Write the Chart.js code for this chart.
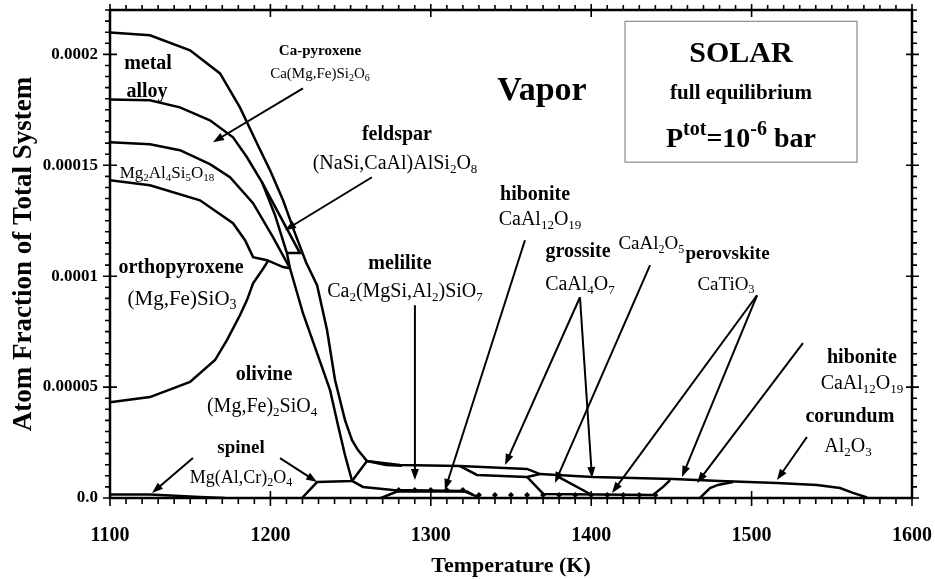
<!DOCTYPE html>
<html>
<head>
<meta charset="utf-8">
<script src="https://cdn.jsdelivr.net/npm/chart.js@4.4.1/dist/chart.umd.min.js"></script>
<style>
    html, body { margin: 0; padding: 0; background: #fff; }
    #wrap { width: 935px; height: 580px; }
</style>
</head>
<body>
<div id="wrap"><canvas id="phaseChart"></canvas></div>
<script>
// Phase boundaries: [temperature (K), atom fraction x 1e-5]
const alloyTop = [
    [1100, 20.99], [1124.9, 20.86], [1149.9, 20.18], [1168.6, 19.14], [1181.0, 17.61],
    [1191.6, 15.99], [1199.8, 14.77], [1207.9, 13.42], [1215.3, 11.94], [1222.2, 10.63],
    [1229.1, 9.59], [1235.3, 7.57], [1240.3, 5.32], [1246.5, 3.51], [1250.9, 2.61],
    [1254.6, 2.16], [1260.2, 1.67], [1270.2, 1.58], [1280.8, 1.49], [1318.2, 1.44],
    [1360.0, 1.31], [1368.1, 1.08], [1378.7, 1.04], [1401.1, 0.95], [1426.1, 0.90],
    [1451.0, 0.86], [1480.3, 0.77], [1515.8, 0.68], [1540.8, 0.59], [1555.1, 0.45],
    [1563.2, 0.23], [1572.0, 0.02]
];
const alloyBase = [
    [1100, 17.97], [1124.9, 17.93], [1143.6, 17.61], [1162.3, 17.03], [1176.7, 16.26],
    [1185.4, 15.36], [1194.8, 14.23], [1202.9, 12.75], [1210.3, 11.04], [1212.2, 10.36]
];
const cpxBase = [
    [1100, 16.04], [1124.9, 15.95], [1143.6, 15.68], [1162.3, 15.05], [1174.8, 14.46],
    [1189.2, 13.29], [1201.6, 11.76], [1212.2, 10.36], [1220.3, 8.33], [1229.1, 6.53],
    [1237.2, 4.86], [1242.1, 3.29], [1246.5, 1.94], [1250.9, 0.77]
];
const opxTop = [
    [1100, 14.32], [1124.9, 14.10], [1156.1, 13.42], [1176.7, 12.39], [1184.2, 11.62],
    [1189.2, 10.86], [1197.9, 10.72], [1207.9, 10.41], [1212.2, 10.36]
];
const olivineTop = [
    [1100, 4.32], [1124.9, 4.55], [1149.9, 5.23], [1165.5, 6.22], [1172.9, 7.12],
    [1181.0, 8.24], [1185.4, 8.92], [1189.2, 9.68], [1194.8, 10.27], [1198.5, 10.68]
];
const feldsparEdge = [[1194.8, 14.23], [1218.4, 11.04], [1210.3, 11.04]];
const spinelLow = [[1100, 0.16], [1124.9, 0.16], [1137.4, 0.11], [1156.1, 0.05], [1171.7, 0]];
const spinelHigh = [[1219.7, 0], [1229.1, 0.72], [1250.9, 0.77], [1260.2, 1.67]];
const meliliteWedge = [[1260.2, 1.67], [1272.0, 1.49], [1282.0, 1.45]];
const meliliteBase = [[1250.9, 0.77], [1257.7, 0.50], [1276.4, 0.36], [1320.1, 0.32], [1326.3, 0.14], [1330.7, 0]];
const hiboniteLens = [[1318.2, 1.44], [1328.8, 1.04], [1360.0, 0.95], [1368.1, 1.08]];
const traceLens = [[1269.0, 0], [1278.9, 0.29], [1322.6, 0.29], [1326.3, 0.14]];
const grossiteEdge = [[1360.0, 0.95], [1370.2, 0.18], [1438.5, 0.14], [1444.8, 0.50], [1449.2, 0.81]];
const grossiteSplit = [[1378.7, 0.99], [1399.3, 0.18]];
const corundumEdge = [[1467.8, 0], [1474.1, 0.45], [1479.0, 0.59], [1488.4, 0.72]];

// small diamond markers near the floor
const traceT = [1280, 1290, 1300, 1310, 1320, 1330, 1340, 1350, 1360, 1370, 1380, 1390, 1400, 1410, 1420, 1430, 1440];
const traceY = [0.36, 0.36, 0.36, 0.36, 0.36, 0.14, 0.14, 0.14, 0.14, 0.14, 0.14, 0.14, 0.14, 0.14, 0.14, 0.14, 0.14];

// axis ticks
const xTickLabels = [1100, 1200, 1300, 1400, 1500, 1600];
const yTickLabels = ['0.0', '0.00005', '0.0001', '0.00015', '0.0002'];
const xMajor = 100, xMinor = 10;
const yMajor = 5, yMinor = 0.5; // x 1e-5

// arrows: [T from, y from, T to, y to]
const arrows = [
    [1220.3, 18.47, 1164.2, 16.04],   // Ca-pyroxene
    [1263.3, 14.46, 1209.1, 12.07],   // feldspar
    [1151.7, 1.80, 1126.2, 0.23],     // spinel
    [1206.0, 1.80, 1229.1, 0.72],     // spinel
    [1290.1, 8.69, 1290.1, 0.81],     // melilite
    [1358.7, 11.62, 1308.8, 0.36],    // hibonite
    [1393.0, 9.05, 1346.3, 1.49],     // grossite
    [1393.0, 9.05, 1400.5, 0.90],     // grossite
    [1436.7, 10.50, 1377.4, 0.68],    // CaAl2O5
    [1503.4, 9.14, 1413.0, 0.23],     // perovskite
    [1503.4, 9.14, 1456.6, 0.95],     // perovskite
    [1532.0, 6.98, 1466.0, 0.68],     // hibonite
    [1534.5, 2.75, 1515.8, 0.81]      // corundum
];

// text labels: [text, T, y, font size, bold]
const labels = [
    ['metal', 1123.7, 19.64, 20, true],
    ['alloy', 1123.1, 18.38, 20, true],
    ['Ca-pyroxene', 1230.9, 20.18, 15, true],
    ['Ca(Mg,Fe)Si_{2}O_{6}', 1230.9, 19.14, 15, false],
    ['Vapor', 1369.3, 18.47, 34, true],
    ['feldspar', 1278.9, 16.44, 20, true],
    ['(NaSi,CaAl)AlSi_{2}O_{8}', 1277.7, 15.14, 20, false],
    ['Mg_{2}Al_{4}Si_{5}O_{18}', 1135.5, 14.68, 17, false],
    ['orthopyroxene', 1144.3, 10.45, 20, true],
    ['(Mg,Fe)SiO_{3}', 1144.9, 9.01, 21, false],
    ['olivine', 1196.0, 5.63, 20, true],
    ['(Mg,Fe)_{2}SiO_{4}', 1194.8, 4.19, 20, false],
    ['spinel', 1181.7, 2.30, 19, true],
    ['Mg(Al,Cr)_{2}O_{4}', 1181.7, 0.95, 18, false],
    ['melilite', 1280.8, 10.63, 20, true],
    ['Ca_{2}(MgSi,Al_{2})SiO_{7}', 1283.9, 9.37, 20, false],
    ['hibonite', 1365.0, 13.74, 20, true],
    ['CaAl_{12}O_{19}', 1368.1, 12.61, 20, false],
    ['grossite', 1391.8, 11.17, 20, true],
    ['CaAl_{4}O_{7}', 1393.0, 9.68, 20, false],
    ['CaAl_{2}O_{5}', 1437.5, 11.49, 19, false],
    ['perovskite', 1485.0, 11.04, 19, true],
    ['CaTiO_{3}', 1484.0, 9.68, 19, false],
    ['hibonite', 1568.8, 6.40, 20, true],
    ['CaAl_{12}O_{19}', 1568.8, 5.23, 20, false],
    ['corundum', 1561.3, 3.74, 20, true],
    ['Al_{2}O_{3}', 1560.1, 2.39, 20, false]
];

const boxCorners = [1421.1, 21.49, 1565.7, 15.14];
const boxLines = [
    ['SOLAR', 1493.4, 20.09, 30, true],
    ['full equilibrium', 1493.4, 18.29, 21, true],
    ['P^{tot}=10^{-6} bar', 1493.4, 16.26, 28, true]
];

const FONT = "'Liberation Serif', 'Times New Roman', serif";

function toPoints(pairs) {
    return pairs.map(p => ({ x: p[0], y: p[1] * 1e-5 }));
}

function boundary(pairs) {
    return {
        data: toPoints(pairs),
        borderColor: '#000',
        borderWidth: 2.5,
        pointRadius: 0,
        tension: 0,
        fill: false
    };
}

// split "Si_{2}O^{x}" into plain / sub / sup runs
function parseRich(str) {
    const out = [];
    const re = /([_^])\{([^}]*)\}/g;
    let last = 0, m;
    while ((m = re.exec(str)) !== null) {
        if (m.index > last) out.push({ t: str.slice(last, m.index), k: 0 });
        out.push({ t: m[2], k: m[1] === '_' ? 1 : -1 });
        last = re.lastIndex;
    }
    if (last < str.length) out.push({ t: str.slice(last), k: 0 });
    return out;
}

function drawRich(ctx, str, cx, cy, size, bold) {
    const runs = parseRich(str);
    const w = bold ? 'bold ' : '';
    let total = 0;
    runs.forEach(r => {
        r.size = r.k === 0 ? size : Math.round(size * (r.k === -1 ? 0.72 : 0.65));
        ctx.font = w + r.size + 'px ' + FONT;
        r.w = ctx.measureText(r.t).width;
        total += r.w;
    });
    let x = cx - total / 2;
    ctx.textAlign = 'left';
    ctx.textBaseline = 'alphabetic';
    const base = cy + size * 0.33;
    runs.forEach(r => {
        ctx.font = w + r.size + 'px ' + FONT;
        const dy = r.k === 1 ? size * 0.2 : (r.k === -1 ? -size * 0.4 : 0);
        ctx.fillText(r.t, x, base + dy);
        x += r.w;
    });
}

function drawArrow(ctx, x0, y0, x1, y1) {
    const ang = Math.atan2(y1 - y0, x1 - x0);
    const len = 11, half = 4;
    ctx.beginPath();
    ctx.moveTo(x0, y0);
    ctx.lineTo(x1 - Math.cos(ang) * len * 0.7, y1 - Math.sin(ang) * len * 0.7);
    ctx.stroke();
    ctx.beginPath();
    ctx.moveTo(x1, y1);
    ctx.lineTo(x1 - Math.cos(ang) * len - Math.sin(ang) * half, y1 - Math.sin(ang) * len + Math.cos(ang) * half);
    ctx.lineTo(x1 - Math.cos(ang) * len + Math.sin(ang) * half, y1 - Math.sin(ang) * len - Math.cos(ang) * half);
    ctx.closePath();
    ctx.fill();
}

const decor = {
    id: 'decor',
    afterDatasetsDraw(chart) {
        const { ctx, scales: { x, y } } = chart;
        const px = t => x.getPixelForValue(t);
        const py = v => y.getPixelForValue(v * 1e-5);
        ctx.save();
        ctx.strokeStyle = '#000';
        ctx.fillStyle = '#000';
        ctx.lineWidth = 2;
        arrows.forEach(a => drawArrow(ctx, px(a[0]), py(a[1]), px(a[2]), py(a[3])));

        labels.forEach(l => drawRich(ctx, l[0], px(l[1]), py(l[2]), l[3], l[4]));

        // info box
        ctx.strokeStyle = '#8a8a8a';
        ctx.lineWidth = 1.2;
        const bx0 = px(boxCorners[0]), by0 = py(boxCorners[1]);
        const bx1 = px(boxCorners[2]), by1 = py(boxCorners[3]);
        ctx.strokeRect(bx0, by0, bx1 - bx0, by1 - by0);
        boxLines.forEach(l => drawRich(ctx, l[0], px(l[1]), py(l[2]), l[3], l[4]));
        ctx.restore();
    },
    afterDraw(chart) {
        const { ctx, chartArea: a, scales: { x, y } } = chart;
        ctx.save();
        ctx.strokeStyle = '#000';
        ctx.lineWidth = 2.5;
        ctx.strokeRect(a.left, a.top, a.right - a.left, a.bottom - a.top);

        ctx.lineWidth = 1.6;
        ctx.beginPath();
        for (let t = x.min; t <= x.max + 0.01; t += xMinor) {
            const p = x.getPixelForValue(t);
            const major = Math.abs(t % xMajor) < 0.01;
            if (major) {
                ctx.moveTo(p, a.bottom - 7); ctx.lineTo(p, a.bottom + 8);
                ctx.moveTo(p, a.top - 6); ctx.lineTo(p, a.top + 7);
            } else {
                ctx.moveTo(p, a.bottom); ctx.lineTo(p, a.bottom + 6);
                ctx.moveTo(p, a.top); ctx.lineTo(p, a.top - 5);
            }
        }
        const steps = Math.round(y.max * 1e5 / yMinor);
        for (let k = 0; k <= steps; k++) {
            const p = y.getPixelForValue(k * yMinor * 1e-5);
            const major = k % Math.round(yMajor / yMinor) === 0;
            if (major) {
                ctx.moveTo(a.left - 7, p); ctx.lineTo(a.left + 7, p);
                ctx.moveTo(a.right - 6, p); ctx.lineTo(a.right + 7, p);
            } else {
                ctx.moveTo(a.left, p); ctx.lineTo(a.left - 5, p);
                ctx.moveTo(a.right, p); ctx.lineTo(a.right + 5, p);
            }
        }
        ctx.stroke();

        // tick labels
        ctx.fillStyle = '#000';
        ctx.textBaseline = 'middle';
        ctx.textAlign = 'center';
        ctx.font = 'bold 20px ' + FONT;
        xTickLabels.forEach(t => ctx.fillText(String(t), x.getPixelForValue(t), a.bottom + 38));
        ctx.textAlign = 'right';
        ctx.font = 'bold 17px ' + FONT;
        yTickLabels.forEach((s, i) => ctx.fillText(s, a.left - 12, y.getPixelForValue(i * yMajor * 1e-5)));

        // axis titles
        ctx.textAlign = 'center';
        ctx.font = 'bold 22px ' + FONT;
        ctx.fillText('Temperature (K)', (a.left + a.right) / 2, a.bottom + 68);
        ctx.translate(24, (a.top + a.bottom) / 2);
        ctx.rotate(-Math.PI / 2);
        ctx.font = 'bold 27px ' + FONT;
        ctx.fillText('Atom Fraction of Total System', 0, 0);
        ctx.restore();
    }
};

const datasets = [
    boundary(alloyTop), boundary(alloyBase), boundary(cpxBase), boundary(opxTop),
    boundary(olivineTop), boundary(feldsparEdge), boundary(spinelLow), boundary(spinelHigh),
    boundary(meliliteWedge), boundary(meliliteBase), boundary(hiboniteLens), boundary(traceLens),
    boundary(grossiteEdge), boundary(grossiteSplit), boundary(corundumEdge),
    {
        data: traceT.map((t, i) => ({ x: t, y: traceY[i] * 1e-5 })),
        showLine: false,
        pointStyle: 'rectRot',
        pointRadius: 3,
        pointBackgroundColor: '#000',
        pointBorderColor: '#000',
        pointBorderWidth: 0
    }
];

document.addEventListener('DOMContentLoaded', function() {
    const ctx = document.getElementById('phaseChart').getContext('2d');
    new Chart(ctx, {
        type: 'line',
        data: { datasets: datasets },
        plugins: [decor],
        options: {
            responsive: true,
            maintainAspectRatio: false,
            animation: false,
            layout: { padding: { top: 10, right: 23, left: 0, bottom: 0 } },
            plugins: { legend: { display: false }, tooltip: { enabled: false } },
            scales: {
                x: {
                    type: 'linear',
                    min: 1100,
                    max: 1600,
                    border: { display: false },
                    grid: { display: false, drawTicks: false },
                    ticks: { display: false },
                    afterFit: s => { s.height = 82; }
                },
                y: {
                    type: 'linear',
                    min: 0,
                    max: 0.00022,
                    border: { display: false },
                    grid: { display: false, drawTicks: false },
                    ticks: { display: false },
                    afterFit: s => { s.width = 110; }
                }
            }
        }
    });
});
</script>
</body>
</html>
